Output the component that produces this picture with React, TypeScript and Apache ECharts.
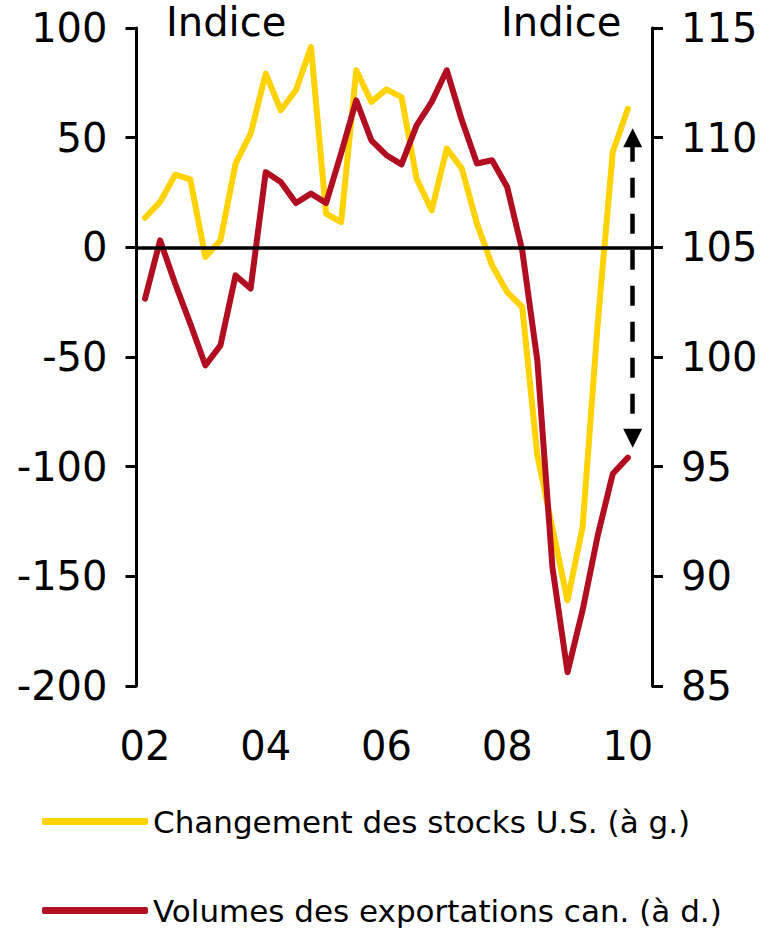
import React, { useEffect, useRef } from "react";
import * as echarts from "echarts";

// Quarterly periods (x axis)
const quarters = [
  "2002T1", "2002T2", "2002T3", "2002T4",
  "2003T1", "2003T2", "2003T3", "2003T4",
  "2004T1", "2004T2", "2004T3", "2004T4",
  "2005T1", "2005T2", "2005T3", "2005T4",
  "2006T1", "2006T2", "2006T3", "2006T4",
  "2007T1", "2007T2", "2007T3", "2007T4",
  "2008T1", "2008T2", "2008T3", "2008T4",
  "2009T1", "2009T2", "2009T3", "2009T4",
  "2010T1",
];

// Changement des stocks U.S. (left axis)
const stocksUS = [
  13.5, 20.7, 33.1, 31.0,
  -4.4, 3.2, 38.2, 51.8,
  79.2, 62.5, 71.6, 91.3,
  15.4, 11.5, 80.7, 66.3,
  72.0, 68.5, 31.3, 16.9,
  45.0, 35.9, 10.8, -8.2,
  -20.4, -27.2, -94.8, -128.0,
  -161.0, -127.5, -35.0, 43.5,
  63.2,
];

// Volumes des exportations can. (right axis)
const exportsCan = [
  102.66, 105.32, 103.34, 101.52,
  99.62, 100.53, 103.72, 103.12,
  108.43, 107.98, 107.02, 107.45,
  107.02, 109.3, 111.7, 109.88,
  109.2, 108.78, 110.56, 111.63,
  113.07, 110.79, 108.82, 108.97,
  107.75, 104.86, 99.85, 90.42,
  85.63, 88.45, 91.85, 94.68,
  95.41,
];

const xTickValues = [2002, 2004, 2006, 2008, 2010];
const xTickLabels = ["02", "04", "06", "08", "10"];

// Arrow annotation (right-axis values)
const arrowX = 2010.08;
const arrowTop = 110;
const arrowBottom = 96.3;

const seriesNames = [
  "Changement des stocks U.S. (à g.)",
  "Volumes des exportations can. (à d.)",
];

const FONT = '"DejaVu Sans", sans-serif';
const YELLOW = "#FFD200";
const RED = "#B10E21";

const toX = (q: string) => parseInt(q.slice(0, 4), 10) + (parseInt(q.slice(5), 10) - 1) / 4;

export default function App() {
  const ref = useRef<HTMLDivElement>(null);

  useEffect(() => {
    if (!ref.current) return;
    const chart = echarts.init(ref.current, undefined, { renderer: "svg" });
    const xs = quarters.map(toX);

    const axisCommon = {
      type: "value" as const,
      axisLine: { show: true, lineStyle: { color: "#000", width: 3 } },
      axisTick: { show: true, length: 11, lineStyle: { color: "#000", width: 3 } },
      axisLabel: { color: "#000", fontSize: 40, fontFamily: FONT, margin: 29 },
      splitLine: { show: false },
    };

    const legendCommon = {
      orient: "vertical" as const,
      left: 42,
      padding: 0,
      itemWidth: 106,
      itemHeight: 7,
      icon: "roundRect",
      textStyle: { color: "#000", fontSize: 31, fontFamily: FONT, padding: [0, 0, 7, 0] },
    };

    chart.setOption({
      animation: false,
      backgroundColor: "#fff",
      grid: { left: 136.5, right: 114, top: 28, bottom: 244, containLabel: false },
      xAxis: {
        type: "value",
        min: 2001.859,
        max: 2010.4,
        axisLine: { show: false },
        axisTick: { show: false },
        splitLine: { show: false },
        axisLabel: {
          customValues: xTickValues,
          color: "#000",
          fontSize: 40,
          fontFamily: FONT,
          margin: 40,
          formatter: (v: number) => {
            const i = xTickValues.indexOf(Math.round(v));
            return i >= 0 ? xTickLabels[i] : "";
          },
        },
      },
      yAxis: [
        { ...axisCommon, position: "left", min: -200, max: 100, interval: 50 },
        { ...axisCommon, position: "right", min: 85, max: 115, interval: 5 },
      ],
      legend: [
        { ...legendCommon, top: 806, data: [seriesNames[0]] },
        { ...legendCommon, top: 895, data: [seriesNames[1]] },
      ],
      graphic: [
        {
          type: "text",
          left: 166,
          top: 2,
          style: { text: "Indice", fontSize: 40, fontFamily: FONT, fill: "#000" },
        },
        {
          type: "text",
          left: 501,
          top: 2,
          style: { text: "Indice", fontSize: 40, fontFamily: FONT, fill: "#000" },
        },
      ],
      series: [
        {
          name: seriesNames[0],
          type: "line",
          yAxisIndex: 0,
          showSymbol: false,
          symbol: "none",
          color: YELLOW,
          lineStyle: { color: YELLOW, width: 6, cap: "round", join: "round" },
          data: xs.map((x, i) => [x, stocksUS[i]]),
          markLine: {
            silent: true,
            symbol: "none",
            label: { show: false },
            lineStyle: { color: "#000", width: 3.5, type: "solid" },
            data: [{ yAxis: 0 }],
          },
          z: 2,
        },
        {
          name: seriesNames[1],
          type: "line",
          yAxisIndex: 1,
          showSymbol: false,
          symbol: "none",
          color: RED,
          lineStyle: { color: RED, width: 6, cap: "round", join: "round" },
          data: xs.map((x, i) => [x, exportsCan[i]]),
          markLine: {
            silent: true,
            symbol: ["triangle", "triangle"],
            symbolSize: 19,
            label: { show: false },
            lineStyle: { color: "#000", width: 4.5, type: [20, 16], dashOffset: 32 },
            data: [[{ coord: [arrowX, arrowTop] }, { coord: [arrowX, arrowBottom] }]],
          },
          z: 3,
        },
      ],
    });

    return () => chart.dispose();
  }, []);

  return (
    <div
      ref={ref}
      style={{ position: "fixed", left: 0, top: 0, width: 766, height: 930, background: "#fff" }}
    />
  );
}
